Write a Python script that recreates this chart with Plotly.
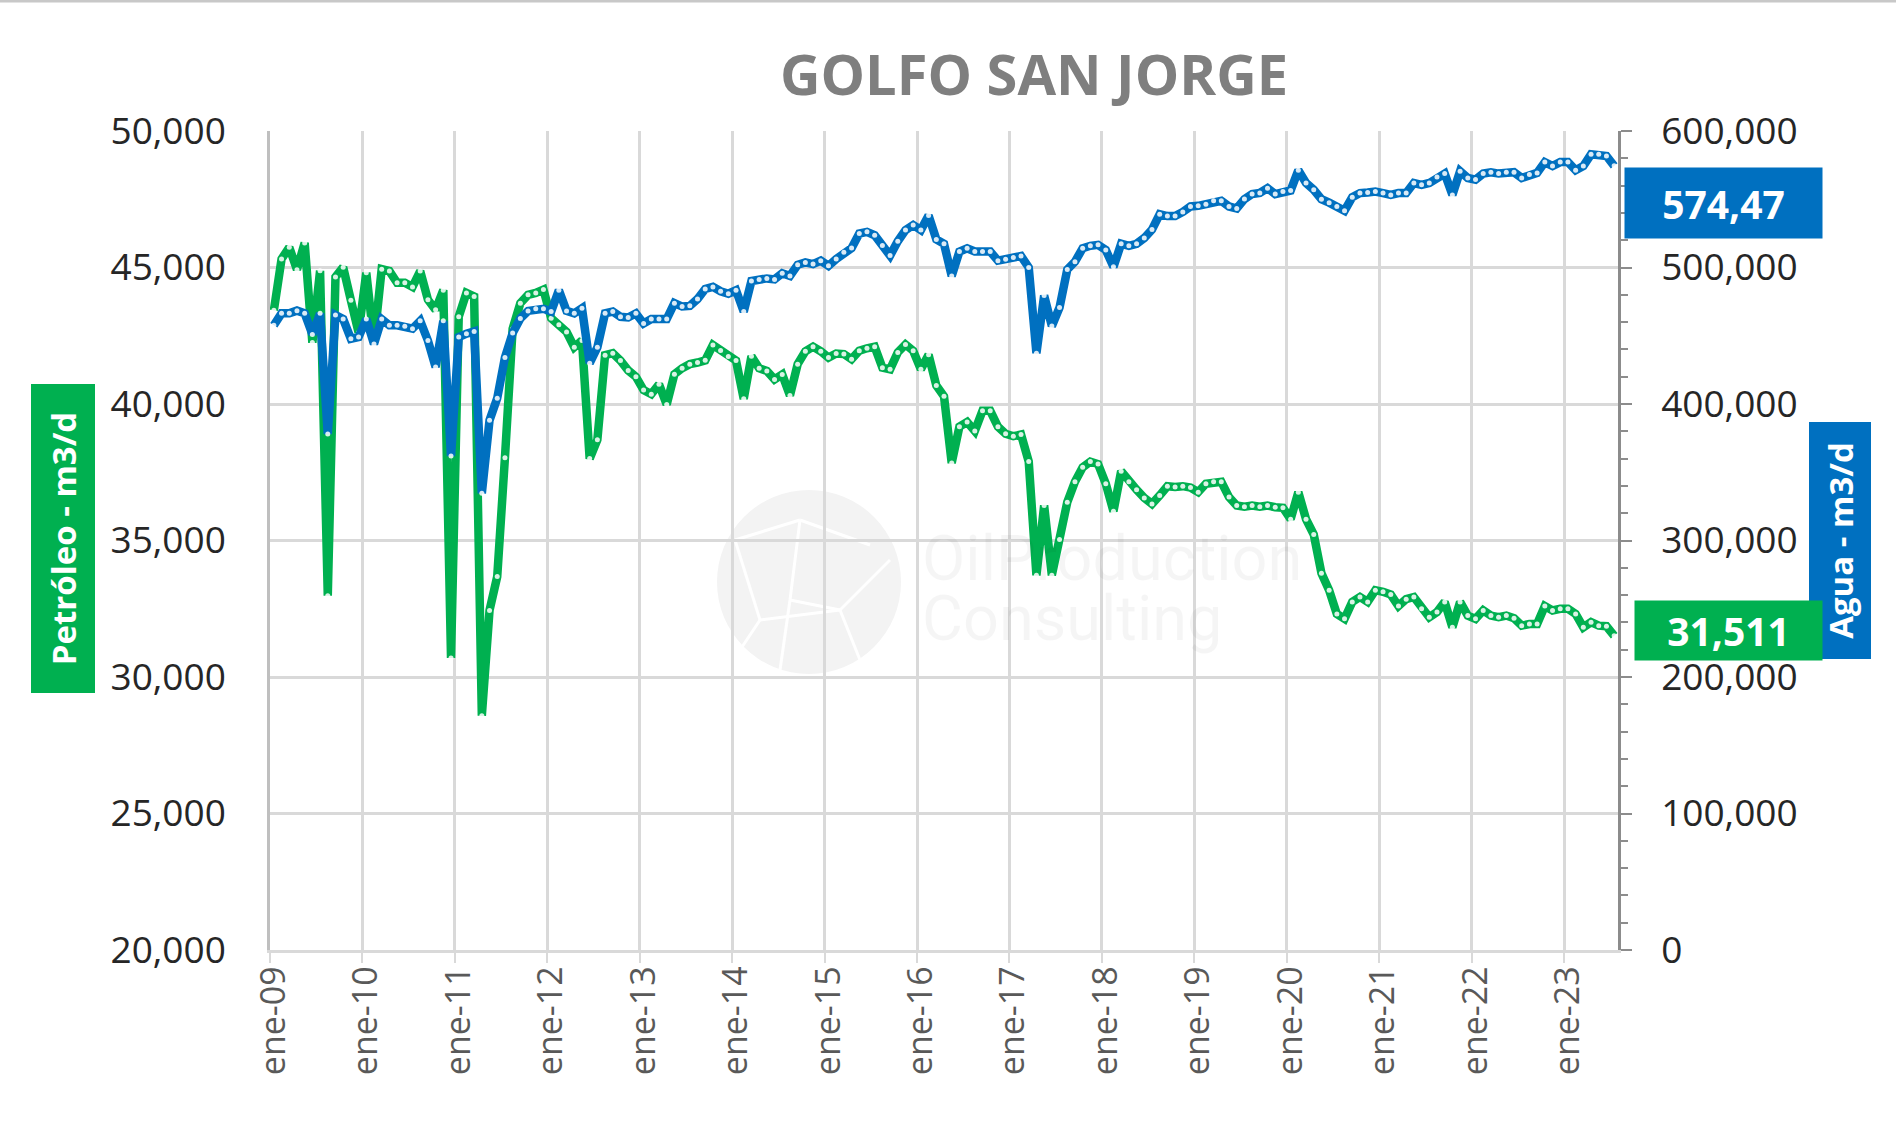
import plotly.graph_objects as go

# ---------------- data ----------------
MESES = ["ene", "feb", "mar", "abr", "may", "jun", "jul", "ago", "sep", "oct", "nov", "dic"]
ANIOS = list(range(9, 24))
meses = [f"{m}-{a:02d}" for a in ANIOS for m in MESES][:175]

# Petróleo (m3/d) - eje izquierdo, ene-09 ... jul-23
petroleo = [
    43430, 45310, 45740, 44920, 45900, 42250, 44880, 32980, 44650, 45010, 43800, 42620,
    44810, 42250, 44940, 44870, 44440, 44440, 44290, 44870, 43820, 43450, 44170, 30700,
    43200, 44070, 43940, 28580, 32440, 33680, 38030, 42760, 43690, 44000, 44070, 44190,
    43140, 42900, 42640, 42080, 42330, 38000, 38690, 41790, 41860, 41590, 41230, 41000,
    40510, 40360, 40720, 39980, 41090, 41310, 41460, 41520, 41600, 42160, 41960, 41740,
    41590, 40190, 41750, 41310, 41210, 40900, 41080, 40310, 41460, 41930, 42100, 41930,
    41700, 41850, 41830, 41640, 41950, 42040, 42100, 41330, 41270, 41890, 42180, 41950,
    41270, 41800, 40680, 40280, 37840, 39170, 39340, 39010, 39750, 39750, 39170, 38910,
    38820, 38880, 37890, 33730, 36280, 33730, 35040, 36400, 37150, 37680, 37890, 37800,
    37080, 36070, 37540, 37150, 36860, 36560, 36340, 36650, 36990, 36960, 36990, 36940,
    36770, 37080, 37150, 37150, 36590, 36280, 36240, 36280, 36240, 36280, 36220, 36200,
    35780, 36770, 35780, 35220, 33800, 33180, 32310, 32130, 32750, 32930, 32750, 33180,
    33120, 33020, 32600, 32850, 32930, 32500, 32190, 32380, 32750, 31820, 32750, 32250,
    32130, 32440, 32250, 32190, 32250, 32150, 31880, 31940, 31940, 32600, 32440, 32500,
    32500, 32310, 31820, 32010, 31880, 31860, 31511,
]

# Agua (m3/d) - eje derecho
agua = [
    457700, 466400, 466400, 468400, 466400, 451000, 466400, 378100, 465200, 462200, 447800, 449000,
    462200, 444000, 462200, 457700, 457700, 457000, 455200, 460900, 446500, 427100, 460900, 361900,
    449000, 451500, 453200, 334600, 388100, 404200, 434100, 452000, 462700, 468200, 469700, 469700,
    467700, 483300, 468200, 466400, 470100, 429900, 441500, 466400, 467700, 463900, 463400, 466400,
    459000, 462200, 462200, 462200, 473900, 471400, 471900, 476900, 484300, 485800, 482600, 480800,
    483300, 467700, 490100, 491300, 492000, 491300, 495800, 493800, 502000, 503700, 502500, 505000,
    501200, 506200, 511200, 514200, 524900, 526100, 523600, 516200, 508700, 519200, 527400, 531100,
    527400, 538100, 520600, 517400, 493700, 511700, 514100, 511700, 511700, 511700, 505000, 506000,
    507400, 508400, 500000, 437200, 479400, 457100, 470700, 498500, 504200, 514100, 515900, 516600,
    512900, 500500, 517400, 515900, 517400, 521600, 527800, 539000, 537700, 537700, 540700, 544700,
    545200, 546400, 548900, 548900, 544700, 543200, 550100, 553800, 554600, 558100, 553800, 555600,
    556400, 571300, 561900, 556900, 550000, 547500, 544600, 541600, 551500, 554500, 555000, 555700,
    554500, 553200, 554500, 554500, 561900, 560600, 561900, 566300, 568800, 553200, 570500, 565600,
    564400, 568800, 569800, 568800, 569800, 569800, 565600, 568100, 569300, 577200, 574300, 577200,
    577200, 571300, 574300, 582900, 582900, 581700, 574470,
]

ultimo_petroleo = "31,511"
ultimo_agua = "574,47"

VERDE = "#00B050"
AZUL = "#0070C0"
GRID = "#D9D9D9"
FONT = "Open Sans"

fig = go.Figure()
fig.add_trace(go.Scatter(
    x=meses, y=petroleo, mode="lines+markers", name="Petróleo",
    line=dict(color=VERDE, width=8.5),
    marker=dict(size=5, color="rgba(255,255,255,0.85)", symbol="circle", line=dict(width=0)),
    yaxis="y", showlegend=False,
))
fig.add_trace(go.Scatter(
    x=meses, y=agua, mode="lines+markers", name="Agua",
    line=dict(color=AZUL, width=8.5),
    marker=dict(size=5, color="rgba(255,255,255,0.85)", symbol="circle", line=dict(width=0)),
    yaxis="y2", showlegend=False,
))

# plot area geometry (pixels) used only for decorative placement
L, R, T, B = 270, 278, 131, 181
W, H = 1896, 1131
PW, PH = W - L - R, H - T - B


def px(xp):
    return (xp - L) / PW


def py(yp):
    return (H - B - yp) / PH


shapes = []
# watermark globe
cx, cy, r = 809, 582, 92
shapes.append(dict(type="circle", xref="paper", yref="paper",
                   x0=px(cx - r), x1=px(cx + r), y0=py(cy + r), y1=py(cy - r),
                   fillcolor="#F3F3F3", line=dict(width=0), layer="below"))
# a few white network lines on the globe
for (a, b) in [((735, 540), (800, 520)), ((800, 520), (870, 545)), ((735, 540), (760, 620)),
               ((760, 620), (840, 610)), ((840, 610), (890, 560)), ((800, 520), (790, 600)),
               ((790, 600), (840, 610)), ((760, 620), (740, 650)), ((840, 610), (860, 660)),
               ((790, 600), (780, 670))]:
    shapes.append(dict(type="line", xref="paper", yref="paper",
                       x0=px(a[0]), y0=py(a[1]), x1=px(b[0]), y1=py(b[1]),
                       line=dict(color="white", width=3), layer="below"))
# top frame line
shapes.append(dict(type="line", xref="paper", yref="paper",
                   x0=px(-10), x1=px(W + 10), y0=py(1), y1=py(1),
                   line=dict(color="#C8C8C8", width=3)))

annotations = [
    # watermark text
    dict(text="OilProduction", xref="paper", yref="paper", x=px(920), y=py(558),
         xanchor="left", yanchor="middle", showarrow=False,
         font=dict(family="Roboto", size=63, color="rgba(0,0,0,0.04)")),
    dict(text="Consulting", xref="paper", yref="paper", x=px(920), y=py(618),
         xanchor="left", yanchor="middle", showarrow=False,
         font=dict(family="Roboto", size=63, color="rgba(0,0,0,0.04)")),
    # axis title boxes
    dict(text="<b>Petróleo - m3/d</b>", xref="paper", yref="paper",
         x=px(62.5), y=py(539), xanchor="center", yanchor="middle", showarrow=False,
         textangle=-90, width=308, height=63, bgcolor=VERDE, borderpad=0,
         font=dict(family=FONT, size=33, color="white")),
    dict(text="<b>Agua - m3/d</b>", xref="paper", yref="paper",
         x=px(1839.5), y=py(541), xanchor="center", yanchor="middle", showarrow=False,
         textangle=-90, width=236, height=61, bgcolor=AZUL, borderpad=0,
         font=dict(family=FONT, size=33, color="white")),
    # last value labels
    dict(text=f"<b>{ultimo_agua}</b>", xref="paper", yref="paper",
         x=px(1723.5), y=py(203), xanchor="center", yanchor="middle", showarrow=False,
         width=197, height=70, bgcolor=AZUL, borderpad=0,
         font=dict(family=FONT, size=39, color="white")),
    dict(text=f"<b>{ultimo_petroleo}</b>", xref="paper", yref="paper",
         x=px(1728.5), y=py(630.5), xanchor="center", yanchor="middle", showarrow=False,
         width=187, height=59, bgcolor=VERDE, borderpad=0,
         font=dict(family=FONT, size=39, color="white")),
]

fig.update_layout(
    width=W, height=H,
    margin=dict(l=L, r=R, t=T, b=B, pad=0),
    paper_bgcolor="white", plot_bgcolor="white",
    title=dict(text="GOLFO SAN JORGE", x=1034 / W, xref="container", xanchor="center",
               y=1 - 75 / H, yref="container", yanchor="middle",
               font=dict(family=FONT, size=56, color="#7F7F7F", weight="bold")),
    xaxis=dict(
        type="category", range=[-0.5, 174.5], tickmode="linear", tick0=0, dtick=12,
        tickson="boundaries", ticks="outside", ticklen=10, tickwidth=2, tickcolor=GRID,
        showgrid=True, gridcolor=GRID, gridwidth=2.5,
        showline=True, linecolor=GRID, linewidth=2.5,
        tickangle=-90, tickfont=dict(family=FONT, size=34, color="#595959"),
    ),
    yaxis=dict(
        range=[20000, 50000], tickmode="linear", tick0=20000, dtick=5000, tickformat=",",
        showgrid=True, gridcolor=GRID, gridwidth=2.5, zeroline=False,
        showline=True, linecolor="#BFBFBF", linewidth=2.5, ticks="",
        tickfont=dict(family=FONT, size=37, color="#262626"), ticklabelstandoff=34,
    ),
    yaxis2=dict(
        overlaying="y", side="right", range=[0, 600000], tickmode="linear", tick0=0,
        dtick=100000, tickformat=",", showgrid=False, zeroline=False,
        showline=True, linecolor="#8C8C8C", linewidth=2.5,
        ticks="outside", ticklen=11, tickwidth=2, tickcolor="#8C8C8C",
        minor=dict(dtick=20000, ticks="outside", ticklen=7, tickwidth=2,
                   tickcolor="#8C8C8C", showgrid=False),
        tickfont=dict(family=FONT, size=37, color="#262626"), ticklabelstandoff=22,
    ),
    shapes=shapes,
    annotations=annotations,
)

fig.write_html("out.html", config={"displayModeBar": False},
               post_script="document.body.style.margin='0';")
